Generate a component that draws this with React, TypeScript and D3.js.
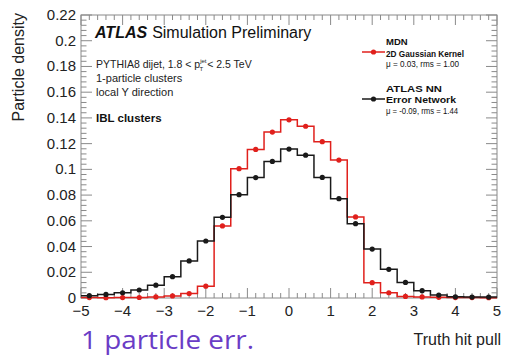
import React from "react";
import * as d3 from "d3";

// Bin centres of the pull histogram (bin width 0.4, range -5..5)
const binCenters = [
  -4.8, -4.4, -4.0, -3.6, -3.2, -2.8, -2.4, -2.0, -1.6, -1.2, -0.8, -0.4, 0.0,
  0.4, 0.8, 1.2, 1.6, 2.0, 2.4, 2.8, 3.2, 3.6, 4.0, 4.4, 4.8,
];
const binWidth = 0.4;

// MDN, 2D Gaussian Kernel
const mdnDensity = [
  0.0003, 0.0002, 0.0003, 0.0004, 0.0008, 0.0016, 0.0035, 0.0092, 0.056,
  0.1005, 0.1155, 0.129, 0.1385, 0.1335, 0.1215, 0.1072, 0.063, 0.0119, 0.0041,
  0.0012, 0.0008, 0.0005, 0.0003, 0.0003, 0.0002,
];

// ATLAS NN, Error Network
const nnDensity = [
  0.0018, 0.0028, 0.0041, 0.0062, 0.01, 0.0166, 0.0288, 0.0443, 0.0627, 0.0803,
  0.0936, 0.1062, 0.1158, 0.111, 0.0937, 0.0772, 0.0578, 0.038, 0.0223, 0.0121,
  0.0057, 0.0023, 0.0009, 0.0007, 0.0007,
];

const yTicks = [0, 0.02, 0.04, 0.06, 0.08, 0.1, 0.12, 0.14, 0.16, 0.18, 0.2, 0.22];
const yTickLabels = ["0", "0.02", "0.04", "0.06", "0.08", "0.1", "0.12", "0.14", "0.16", "0.18", "0.2", "0.22"];
const xTicks = [-5, -4, -3, -2, -1, 0, 1, 2, 3, 4, 5];
const xTickLabels = ["\u22125", "\u22124", "\u22123", "\u22122", "\u22121", "0", "1", "2", "3", "4", "5"];

const W = 505;
const H = 356;
const frame = { left: 81, right: 497, top: 15, bottom: 298 };

const RED = "#e0201c";
const BLACK = "#1a1a1a";
const AXIS = "#8a8a8a";
const FONT = "'Liberation Sans', Arial, Helvetica, sans-serif";

export default function App() {
  const x = d3.scaleLinear().domain([-5, 5]).range([frame.left, frame.right]);
  const y = d3.scaleLinear().domain([0, 0.22]).range([frame.bottom, frame.top]);

  const stepPath = (vals: number[]) => {
    const pts: [number, number][] = vals.map((v, i) => [binCenters[i] - binWidth / 2, v]);
    pts.push([binCenters[binCenters.length - 1] + binWidth / 2, vals[vals.length - 1]]);
    return d3
      .line<[number, number]>()
      .x((d) => x(d[0]))
      .y((d) => y(d[1]))
      .curve(d3.curveStepAfter)(pts) as string;
  };

  const yMinor = d3.range(0, 0.2201, 0.004);
  const xMinor = d3.range(-5, 5.001, 0.2);

  const majorLenY = 11;
  const minorLenY = 5.5;
  const majorLenX = 10;
  const minorLenX = 5;

  const series = [
    { vals: mdnDensity, color: RED },
    { vals: nnDensity, color: BLACK },
  ];

  return (
    <div style={{ position: "fixed", left: 0, top: 0, width: W, height: H, background: "#fff" }}>
      <svg width={W} height={H} viewBox={`0 0 ${W} ${H}`} style={{ display: "block" }}>
        <rect x={0} y={0} width={W} height={H} fill="#fff" />

        {/* frame */}
        <rect
          x={frame.left}
          y={frame.top}
          width={frame.right - frame.left}
          height={frame.bottom - frame.top}
          fill="none"
          stroke={AXIS}
          strokeWidth={1}
        />

        {/* y ticks on left and right */}
        {yMinor.map((v, i) => {
          const major = i % 5 === 0;
          const len = major ? majorLenY : minorLenY;
          return (
            <g key={`ym${i}`} stroke={AXIS} strokeWidth={1}>
              <line x1={frame.left} x2={frame.left + len} y1={y(v)} y2={y(v)} />
              <line x1={frame.right} x2={frame.right - len} y1={y(v)} y2={y(v)} />
            </g>
          );
        })}

        {/* x ticks on bottom and top */}
        {xMinor.map((v, i) => {
          const major = i % 5 === 0;
          const len = major ? majorLenX : minorLenX;
          return (
            <g key={`xm${i}`} stroke={AXIS} strokeWidth={1}>
              <line x1={x(v)} x2={x(v)} y1={frame.bottom} y2={frame.bottom - len} />
              <line x1={x(v)} x2={x(v)} y1={frame.top} y2={frame.top + len} />
            </g>
          );
        })}

        {/* y tick labels */}
        {yTicks.map((v, i) => (
          <text
            key={`yl${i}`}
            x={frame.left - 5}
            y={y(v) + 5}
            textAnchor="end"
            fontFamily={FONT}
            fontSize={15}
            fill="#222"
          >
            {yTickLabels[i]}
          </text>
        ))}

        {/* x tick labels */}
        {xTicks.map((v, i) => (
          <text
            key={`xl${i}`}
            x={x(v)}
            y={316}
            textAnchor="middle"
            fontFamily={FONT}
            fontSize={15}
            fill="#222"
          >
            {xTickLabels[i]}
          </text>
        ))}

        {/* axis titles */}
        <text
          transform={`translate(24,13) rotate(-90)`}
          textAnchor="end"
          fontFamily={FONT}
          fontSize={16}
          fill="#222"
        >
          Particle density
        </text>
        <text x={501} y={345} textAnchor="end" fontFamily={FONT} fontSize={16} fill="#222">
          Truth hit pull
        </text>

        {/* histograms */}
        {series.map((s, si) => (
          <g key={`s${si}`}>
            <path d={stepPath(s.vals)} fill="none" stroke={s.color} strokeWidth={1.5} />
            {s.vals.map((v, i) => (
              <circle key={i} cx={x(binCenters[i])} cy={y(v)} r={2.6} fill={s.color} />
            ))}
          </g>
        ))}

        {/* ATLAS label block */}
        <text x={95} y={38} fontFamily={FONT} fontSize={16} fill="#111">
          <tspan fontWeight="bold" fontStyle="italic">ATLAS</tspan>
          <tspan dx={5}>Simulation Preliminary</tspan>
        </text>
        <text x={96} y={68} fontFamily={FONT} fontSize={10.5} fill="#222">
          <tspan>PYTHIA8 dijet, 1.8 &lt; p</tspan>
          <tspan fontSize={6} dy={-5}>jet</tspan>
          <tspan fontSize={6} dx={-7} dy={8}>T</tspan>
          <tspan dx={4} dy={-3}>&lt; 2.5 TeV</tspan>
        </text>
        <text x={96} y={82} fontFamily={FONT} fontSize={11} fill="#222">
          1-particle clusters
        </text>
        <text x={96} y={96} fontFamily={FONT} fontSize={11} fill="#222">
          local Y direction
        </text>
        <text x={96} y={122} fontFamily={FONT} fontSize={11.5} fontWeight="bold" fill="#111">
          IBL clusters
        </text>

        {/* legend */}
        <g fontFamily={FONT} fill="#111">
          <line x1={362} x2={385} y1={52} y2={52} stroke={RED} strokeWidth={1.5} />
          <circle cx={373.5} cy={52} r={2.6} fill={RED} />
          <text x={386} y={45} fontSize={9.5} fontWeight="bold">MDN</text>
          <text x={386} y={56.5} fontSize={9.5} fontWeight="bold" textLength={78} lengthAdjust="spacingAndGlyphs">
            2D Gaussian Kernel
          </text>
          <text x={386} y={66.5} fontSize={9} textLength={73} lengthAdjust="spacingAndGlyphs">
            μ = 0.03, rms = 1.00
          </text>

          <line x1={362} x2={385} y1={99} y2={99} stroke={BLACK} strokeWidth={1.5} />
          <circle cx={373.5} cy={99} r={2.6} fill={BLACK} />
          <text x={386} y={92} fontSize={9.5} fontWeight="bold" textLength={56} lengthAdjust="spacingAndGlyphs">
            ATLAS NN
          </text>
          <text x={386} y={103} fontSize={9.5} fontWeight="bold" textLength={70} lengthAdjust="spacingAndGlyphs">
            Error Network
          </text>
          <text x={386} y={113.5} fontSize={9} textLength={72} lengthAdjust="spacingAndGlyphs">
            μ = -0.09, rms = 1.44
          </text>
        </g>

        {/* caption */}
        <text
          x={81}
          y={349}
          fontFamily="'Open Sans', 'Noto Sans', sans-serif"
          fontSize={26}
          fill="#6a3cc6"
          textLength={173}
          lengthAdjust="spacingAndGlyphs"
        >
          1 particle err.
        </text>
      </svg>
    </div>
  );
}
